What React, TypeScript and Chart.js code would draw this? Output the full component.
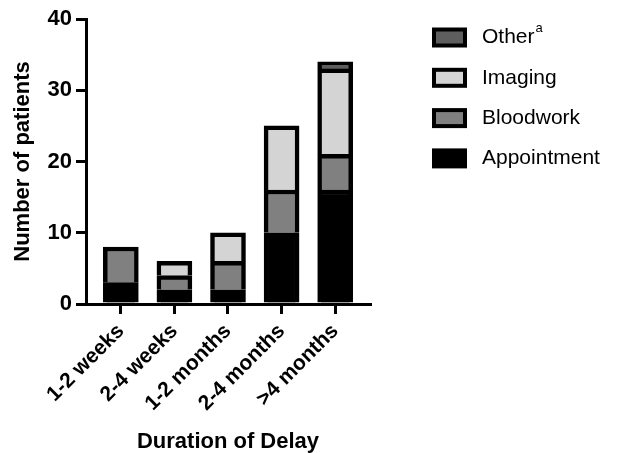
import React, { useEffect, useRef } from 'react';
import { Chart, registerables } from 'chart.js';

Chart.register(...registerables);

const categories = ['1-2 weeks', '2-4 weeks', '1-2 months', '2-4 months', '>4 months'];
const seriesNames = ['Appointment', 'Bloodwork', 'Imaging', 'Other'];
const seriesNotes = ['', '', '', 'a'];
const seriesColors = ['#000000', '#808080', '#d4d4d4', '#5e5e5e'];
const appointment = [3, 2, 2, 10, 16];
const bloodwork = [5, 2, 4, 6, 5];
const imaging = [0, 2, 4, 9, 12];
const other = [0, 0, 0, 0, 1];
const yTicks = [0, 10, 20, 30, 40];
const xTitle = 'Duration of Delay';
const yTitle = 'Number of patients';

const FONT = '"Liberation Sans", Arial, Helvetica, sans-serif';

const sideLegend = {
  id: 'sideLegend',
  afterDraw(chart: any) {
    const ctx = chart.ctx as CanvasRenderingContext2D;
    const ds = chart.data.datasets;
    ctx.save();
    const n = ds.length;
    for (let row = 0; row < n; row++) {
      const di = n - 1 - row;
      const d = ds[di];
      const cy = 37.5 + row * 40.3;
      const bx = 432, bw = 35, bh = 20, b = 4;
      ctx.fillStyle = '#000';
      ctx.fillRect(bx, cy - bh / 2, bw, bh);
      ctx.fillStyle = d.backgroundColor;
      ctx.fillRect(bx + b, cy - bh / 2 + b, bw - 2 * b, bh - 2 * b);
      ctx.font = `21px ${FONT}`;
      ctx.fillStyle = '#000';
      ctx.textBaseline = 'middle';
      ctx.textAlign = 'left';
      ctx.fillText(d.label, 482, cy);
      const note = seriesNotes[di];
      if (note) {
        const w = ctx.measureText(d.label).width;
        ctx.font = `13px ${FONT}`;
        ctx.fillText(note, 482 + w + 1, cy - 9);
      }
    }
    ctx.restore();
  },
};

export default function App() {
  const ref = useRef<HTMLCanvasElement | null>(null);
  useEffect(() => {
    if (!ref.current) return;
    const series = [appointment, bloodwork, imaging, other];
    const chart = new Chart(ref.current, {
      type: 'bar',
      data: {
        datasets: series.map((vals, si) => ({
          label: seriesNames[si],
          data: vals.map((v, i) => ({ x: i, y: v === 0 ? null : v })),
          backgroundColor: seriesColors[si],
          borderColor: '#000000',
          borderWidth: 4.5,
          barThickness: 35,
        })),
      },
      options: {
        responsive: false,
        animation: false,
        devicePixelRatio: 1,
        layout: { padding: { top: 19, right: 247, bottom: 0, left: 0 } },
        plugins: { legend: { display: false }, tooltip: { enabled: false } },
        scales: {
          x: {
            type: 'linear',
            stacked: true,
            offset: false,
            min: -0.65,
            max: categories.length - 1 + 0.65,
            afterBuildTicks: (scale: any) => {
              scale.ticks = categories.map((_, i) => ({ value: i }));
            },
            afterFit: (scale: any) => {
              scale.height = 149;
            },
            ticks: {
              autoSkip: false,
              minRotation: 45,
              maxRotation: 45,
              padding: 5,
              color: '#000',
              font: { family: FONT, size: 21, weight: 'bold' },
              callback: (v: any) => categories[v as number] ?? '',
            },
            grid: {
              offset: false,
              drawOnChartArea: false,
              drawTicks: true,
              tickLength: 10,
              lineWidth: 3,
              color: '#000',
            },
            border: { display: true, width: 3, color: '#000' },
            title: {
              display: true,
              text: xTitle,
              color: '#000',
              font: { family: FONT, size: 22, weight: 'bold', lineHeight: 1 },
              padding: { top: 0, bottom: 0 },
            },
          },
          y: {
            stacked: true,
            min: 0,
            max: 40,
            afterBuildTicks: (scale: any) => {
              scale.ticks = yTicks.map((v) => ({ value: v }));
            },
            afterFit: (scale: any) => {
              scale.width = 86;
            },
            ticks: {
              padding: 4,
              color: '#000',
              font: { family: FONT, size: 22, weight: 'bold' },
            },
            grid: {
              drawOnChartArea: false,
              drawTicks: true,
              tickLength: 10,
              lineWidth: 3,
              color: '#000',
            },
            border: { display: true, width: 3, color: '#000' },
            title: {
              display: true,
              text: yTitle,
              color: '#000',
              font: { family: FONT, size: 22, weight: 'bold', lineHeight: 1 },
              padding: { top: 12, bottom: 0 },
            },
          },
        },
      },
      plugins: [sideLegend],
    } as any);
    return () => chart.destroy();
  }, []);
  return (
    <div style={{ position: 'absolute', left: 0, top: 0, width: 617, height: 453, background: '#fff' }}>
      <canvas ref={ref} width={617} height={453} />
    </div>
  );
}
